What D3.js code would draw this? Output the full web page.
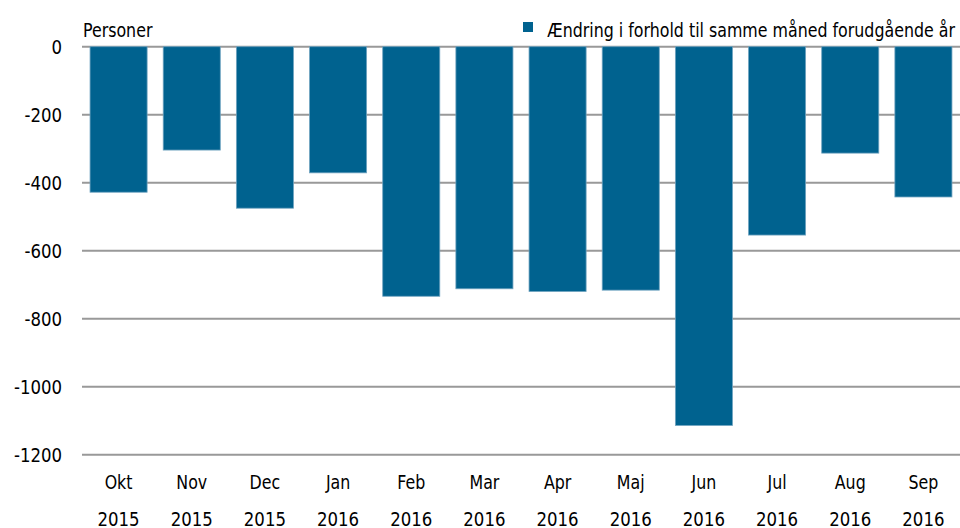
<!DOCTYPE html>
<html><head><meta charset="utf-8">
<script src="https://cdn.jsdelivr.net/npm/d3@7"></script>
<style>
body{margin:0;background:#fff;}
text{font-family:"DejaVu Sans Condensed","DejaVu Sans",sans-serif;font-stretch:condensed;fill:#000;}
</style></head>
<body><svg id="c" width="960" height="528"></svg>
<script>
const months = ["Okt","Nov","Dec","Jan","Feb","Mar","Apr","Maj","Jun","Jul","Aug","Sep"];
const years = ["2015","2015","2015","2016","2016","2016","2016","2016","2016","2016","2016","2016"];
const values = [-428,-304,-475,-371,-734,-712,-720,-716,-1114,-554,-313,-442];
const yTicks = [0,-200,-400,-600,-800,-1000,-1200];
const seriesName = "Ændring i forhold til samme måned forudgående år";
const yUnit = "Personer";

const svg = d3.select("#c");
const L = 82, R = 960, T = 46.7, B = 454.7;
const x = d3.scaleBand().domain(months.map((m,i)=>i)).range([L,R]).paddingInner(0.22).paddingOuter(0.11);
const y = d3.scaleLinear().domain([0,-1200]).range([T,B]);
const color = "#00628f";

// gridlines
svg.append("g").selectAll("line").data(yTicks).join("line")
  .attr("x1",L).attr("x2",R).attr("y1",d=>y(d)).attr("y2",d=>y(d))
  .attr("stroke","#999").attr("stroke-width",2);

// y labels
const yAxis = d3.axisLeft(y).tickValues(yTicks).tickSize(0).tickPadding(0).tickFormat(d=>d===0?"0":String(d));
const ga = svg.append("g").attr("transform",`translate(${62},0)`).call(yAxis);
ga.select(".domain").remove();
ga.selectAll("text").attr("font-size",20).attr("font-family",null).attr("fill","#000").classed("num",true);

// bars
svg.append("g").selectAll("rect").data(values).join("rect")
  .attr("x",(d,i)=>x(i)).attr("width",x.bandwidth())
  .attr("y",d=>y(Math.max(0,d))).attr("height",d=>Math.abs(y(d)-y(0)))
  .attr("fill",color).attr("stroke","#6fa3c0").attr("stroke-width",0.8);

// x labels
const xl = svg.append("g");
xl.selectAll("text.m").data(months).join("text").attr("class","m word")
  .attr("x",(d,i)=>x(i)+x.bandwidth()/2).attr("y",489).attr("text-anchor","middle")
  .attr("font-size",20).text(d=>d);
xl.selectAll("text.yr").data(years).join("text").attr("class","yr num")
  .attr("x",(d,i)=>x(i)+x.bandwidth()/2).attr("y",526).attr("text-anchor","middle")
  .attr("font-size",20).text(d=>d);

// unit label
svg.append("text").attr("class","word").attr("x",83).attr("y",37).attr("font-size",20).text(yUnit);

// legend
const lg = svg.append("g");
lg.append("rect").attr("x",523).attr("y",22).attr("width",10).attr("height",10).attr("fill",color);
lg.append("text").attr("class","word").attr("x",955).attr("y",37).attr("text-anchor","end").attr("font-size",20).text(seriesName);

// narrow the glyphs to match the condensed face of the reference
svg.selectAll("text").each(function(){
  const f = d3.select(this).classed("num") ? 0.92 : 0.88;
  const w = this.getComputedTextLength();
  d3.select(this).attr("textLength", w*f).attr("lengthAdjust","spacingAndGlyphs");
});
</script></body></html>
